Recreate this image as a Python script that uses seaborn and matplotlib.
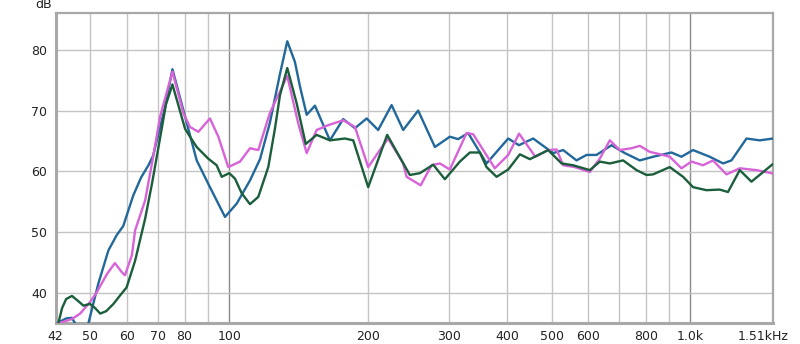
import numpy as np
import pandas as pd
import matplotlib
matplotlib.use("Agg")
import matplotlib.pyplot as plt
import matplotlib.ticker as mticker
from matplotlib.transforms import ScaledTranslation
import seaborn as sns

# ---- data (Hz, dB) ----
blue_f = [42.1, 43.0, 44.3, 45.6, 46.3, 47.5, 48.4, 49.5, 52.0, 54.7, 57.0, 58.9, 61.9, 64.4, 66.8,
          68.4, 69.6, 72.6, 75.3, 80.2, 85.0, 90.8, 97.9, 103.8, 110.9, 116.6, 122.5, 128.8, 133.6,
          138.8, 142.3, 147.2, 153.4, 165.3, 176.6, 187.3, 198.6, 210.3, 224.9, 238.3, 256.8, 279.2,
          300.8, 313.5, 329.6, 361.3, 402.6, 424.7, 456.0, 503.8, 529.6, 566.2, 595.2, 625.7, 674.3,
          720.6, 776.6, 829.9, 909.5, 956.1, 1013, 1101, 1177, 1227, 1323, 1413, 1510]
blue_db = [34.8, 35.3, 35.8, 35.9, 35.0, 33.5, 33.5, 35.0, 41.5, 47.0, 49.5, 51.0, 56.0, 59.0, 61.0,
           62.6, 65.0, 70.6, 76.8, 69.0, 61.8, 57.4, 52.5, 54.7, 58.5, 62.0, 68.0, 76.0, 81.4,
           78.0, 74.0, 69.3, 70.8, 65.1, 68.6, 67.1, 68.7, 66.8, 70.9, 66.8, 70.0, 64.0,
           65.7, 65.3, 66.3, 61.3, 65.4, 64.3, 65.4, 63.0, 63.5, 61.8, 62.7, 62.7, 64.3,
           63.0, 61.8, 62.4, 63.1, 62.4, 63.5, 62.4, 61.3, 61.8, 65.4, 65.1, 65.4]

green_f = [42.1, 42.6, 43.4, 44.3, 45.6, 46.8, 48.3, 49.9, 51.2, 52.5, 54.1, 56.1, 58.0, 59.9, 62.5,
           65.7, 68.0, 70.8, 72.9, 75.3, 80.2, 82.2, 85.0, 90.0, 93.9, 96.3, 100.0, 102.9, 106.4,
           110.9, 115.6, 121.5, 125.6, 128.8, 133.6, 140.0, 146.5, 154.7, 165.3, 178.1, 185.7,
           200.1, 220.0, 246.4, 259.0, 276.8, 293.4, 316.2, 332.4, 349.4, 361.3, 379.8, 402.6,
           426.7, 448.5, 491.5, 525.4, 556.7, 605.1, 636.1, 668.6, 714.5, 764.0, 803.0, 829.9,
           901.8, 963.8, 1013, 1083, 1157, 1206, 1279, 1356, 1498, 1510]
green_db = [34.6, 35.0, 37.5, 39.0, 39.5, 38.8, 37.9, 38.2, 37.5, 36.6, 37.0, 38.2, 39.6, 40.9, 45.3,
            52.2, 58.0, 65.5, 71.0, 74.3, 67.0, 65.7, 64.0, 62.1, 61.0, 59.1, 59.7, 58.8, 56.4,
            54.6, 55.8, 60.7, 67.0, 72.5, 77.0, 71.2, 64.5, 66.0, 65.1, 65.4, 65.1,
            57.4, 66.0, 59.4, 59.7, 61.1, 58.7, 61.6, 63.1, 63.1, 60.7, 59.1, 60.3,
            62.8, 62.0, 63.5, 61.3, 61.0, 60.2, 61.6, 61.3, 61.8, 60.2, 59.4, 59.5,
            60.7, 59.1, 57.4, 56.9, 57.0, 56.6, 60.2, 58.3, 61.0, 61.2]

pink_f = [42.1, 42.6, 45.6, 47.5, 49.9, 51.6, 54.3, 56.5, 58.5, 59.4, 61.5, 62.5, 65.7, 68.4, 70.8,
          75.3, 79.5, 82.2, 85.7, 90.8, 94.7, 99.5, 105.5, 110.9, 115.6, 122.5, 133.6, 141.1,
          147.2, 154.7, 163.9, 176.6, 187.3, 200.1, 215.7, 221.1, 238.3, 242.4, 260.0, 274.6,
          286.2, 300.8, 327.0, 338.0, 376.6, 402.6, 425.0, 461.0, 491.5, 512.4, 529.6, 561.4,
          605.1, 636.1, 668.6, 702.8, 745.1, 776.6, 816.3, 844.1, 901.8, 956.1, 1005, 1065,
          1119, 1197, 1279, 1390, 1498, 1510]
pink_db = [34.8, 35.0, 35.7, 36.6, 38.5, 40.1, 43.1, 44.9, 43.4, 42.9, 46.2, 50.3, 55.2, 62.4, 69.0,
           76.4, 69.6, 67.3, 66.5, 68.7, 65.7, 60.7, 61.6, 63.8, 63.5, 69.6, 75.7, 67.9,
           63.0, 66.8, 67.6, 68.4, 67.3, 60.7, 64.3, 65.4, 61.3, 59.1, 57.7, 61.0,
           61.3, 60.3, 66.3, 66.1, 60.5, 62.7, 66.2, 62.4, 63.5, 63.6, 61.0, 60.7,
           59.9, 62.1, 65.1, 63.5, 63.8, 64.2, 63.2, 62.95, 62.4, 60.5, 61.6, 61.0,
           61.8, 59.5, 60.5, 60.2, 59.7, 59.6]

x_ticks = [42, 50, 60, 70, 80, 100, 200, 300, 400, 500, 600, 800, 1000, 1510]
x_labels = ["42", "50", "60", "70", "80", "100", "200", "300", "400", "500", "600", "800", "1.0k", "1.51kHz"]
x_grid = [50, 60, 70, 80, 90, 200, 300, 400, 500, 600, 700, 800, 900]
x_grid_major = [100, 1000]
y_ticks = [40, 50, 60, 70, 80]

BLUE = "#22689a"
GREEN = "#1b5e3c"
PINK = "#d862d8"

sns.set_theme(style="white")
plt.rcParams['font.family'] = ['DejaVu Sans']

fig = plt.figure(figsize=(8.0, 3.44), dpi=100)
ax = fig.add_axes([55.5 / 800, 1 - 323.3 / 344, (773 - 55.5) / 800, (323.3 - 13.3) / 344])
ax.set_facecolor("white")

ax.set_xscale("log")
ax.set_xlim(42, 1510)
ax.set_ylim(35, 86)

for g in x_grid:
    ax.axvline(g, color="#c4c4c4", lw=1.0, zorder=1)
for g in x_grid_major:
    ax.axvline(g, color="#8a8a8a", lw=1.0, zorder=1)
for g in y_ticks:
    ax.axhline(g, color="#c4c4c4", lw=1.0, zorder=1)

frames = [
    (pd.DataFrame({"f": blue_f, "db": blue_db}), BLUE),
    (pd.DataFrame({"f": pink_f, "db": pink_db}), PINK),
    (pd.DataFrame({"f": green_f, "db": green_db}), GREEN),
]
for df, col in frames:
    sns.lineplot(data=df, x="f", y="db", ax=ax, color=col, lw=1.7, zorder=3,
                 sort=False, estimator=None)

ax.xaxis.set_major_locator(mticker.FixedLocator(x_ticks))
ax.xaxis.set_major_formatter(mticker.FixedFormatter(x_labels))
ax.xaxis.set_minor_locator(mticker.NullLocator())
ax.set_yticks(y_ticks)
ax.set_yticklabels([str(v) for v in y_ticks])
ax.tick_params(axis="both", length=0, labelsize=9, labelcolor="#222222")
ax.tick_params(axis="x", pad=5)
ax.tick_params(axis="y", pad=6)
ax.set_xlabel("")
ax.set_ylabel("")

# shift the last label to the left so it fits
for lab in ax.get_xticklabels():
    if lab.get_text() == "1.51kHz":
        lab.set_transform(lab.get_transform() + ScaledTranslation(-0.10, 0, fig.dpi_scale_trans))

for side, sp in ax.spines.items():
    sp.set_visible(True)
    sp.set_color("#a8a8a8")
    sp.set_linewidth(2.2 if side in ("left", "bottom") else 1.6)

fig.text(35 / 800, 1 - 5 / 344, "dB", fontsize=9, color="#222222", ha="left", va="center")

fig.savefig("out.png", dpi=100, facecolor="white")
